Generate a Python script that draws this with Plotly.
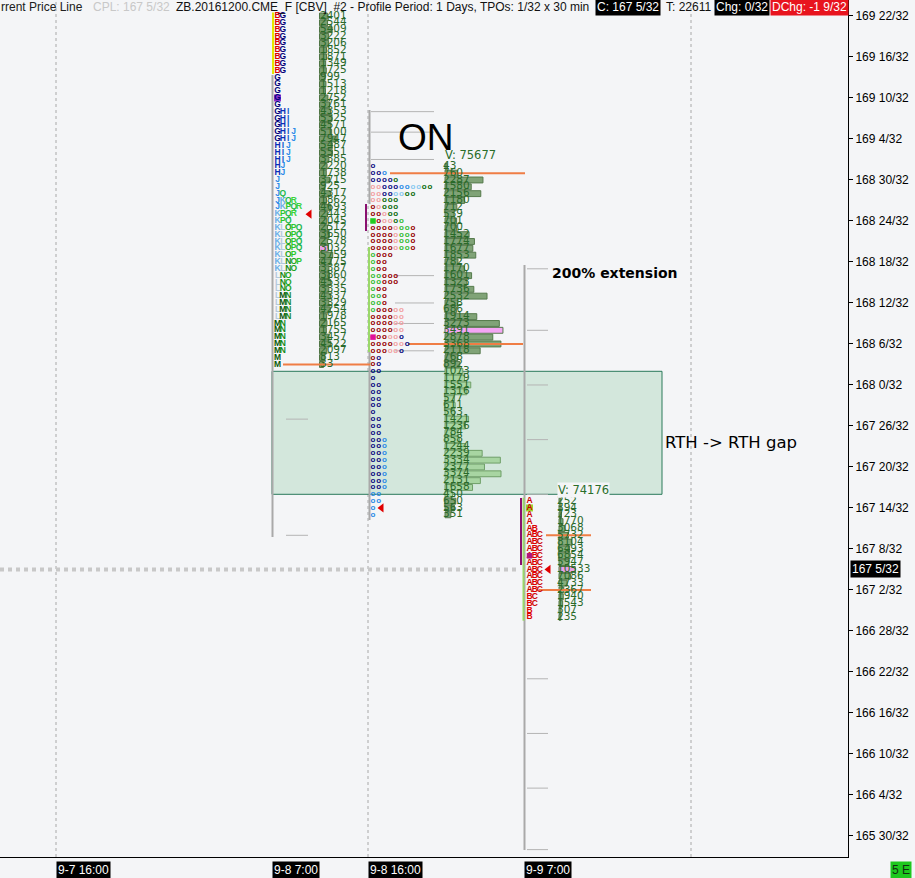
import plotly.graph_objects as go

# ---------------- data (prices in 1/32 ticks: price*32) ----------------
axis_ticks = list(range(5430, 5309, -6))          # 169 22/32 ... 165 30/32
current_price = 5349                               # 167 5/32

# Profile 1 : 9-8 7:00 (RTH)
p1_top = 5430
p1_tpo = (["BG"] * 9 + ["G"] * 5 + ["GHI"] * 3 + ["GHIJ"] * 2 + ["HIJ"] * 3 + ["HJ"] * 2 + ["J"] * 2
          + ["JQ", "JKQR", "JKPQR", "KPQR", "KPQ"] + ["KLOPQ"] * 4 + ["KLOP", "KLNOP", "KLNO"]
          + ["LNO"] * 3 + ["LMN"] * 4 + ["MN"] * 5 + ["M"] * 2)
p1_vol = [2401, 2544, 5409, 3222, 3206, 1852, 1871, 1349, 1725, 999, 1513, 1218, 2752, 3761,
          4353, 5325, 4571, 5100, 7947, 5487, 5551, 3385, 2220, 1738, 3715, 925, 4317, 1862,
          4693, 2443, 2045, 2512, 3650, 2578, 3032, 5759, 4775, 3387, 3860, 4532, 3335, 4337,
          3329, 4254, 1978, 2165, 1755, 3457, 4522, 2097, 813, 33]
p1_poc = 5396
p1_open = 5418
p1_arrow = 5401

# Profile 2 : 9-8 16:00 (overnight), periods coded by letter
on_top = 5408
on_tpo = ["n", "nnb", "nnnng", "ppnnnbbccgg", "ppnnccgg", "ppggg", "rpggg", "rrpgg", "rrppgl",
          "rrrrpllr", "rrrrpllr", "rrrrpllr", "rrrrpllr", "lrrr", "lrr", "lrr", "llrrr", "llrrr",
          "lrr", "llr", "llr", "lrrrpp", "rrrrpp", "rrrrpp", "rrrrpp", "rrrppn", "rrrrppn", "rrrppn",
          "rn", "rn", "nn", "n", "nn", "nn", "nn", "nn", "n", "nn", "nn", "nn", "nnb", "nnb",
          "nnb", "nnb", "nnb", "nnb", "nnb", "nnb", "bb", "bb", "b", "b"]
on_vol = [43, 760, 2287, 1580, 2156, 1180, 712, 539, 701, 700, 1452, 1774, 1677, 1853, 782,
          1170, 1601, 1323, 1736, 2532, 758, 686, 1914, 3273, 3491, 2878, 3368, 2118, 768, 892,
          1073, 1179, 1551, 1316, 577, 611, 563, 1421, 1236, 784, 858, 1244, 2239, 3334, 2377,
          3374, 2131, 1658, 450, 650, 563, 351]
on_poc = 5384
on_total = 75677
on_open_mark = 5400
on_mid_mark = 5383
on_arrow = 5358

# Profile 3 : 9-9 7:00 (RTH)
p3_top = 5359
p3_tpo = ["A", "A", "A", "A", "AB"] + ["ABC"] * 9 + ["BC", "BC", "B", "B"]
p3_vol = [252, 394, 723, 1770, 3068, 5732, 8104, 6493, 6854, 5947, 10533, 7086, 4733, 2367,
          1940, 1543, 307, 235]
p3_poc = 5349
p3_total = 74176
p3_open = 5358
p3_mid_mark = 5351
p3_arrow = 5349

gap_high = 5378      # 168 2/32
gap_low = 5360       # 167 16/32
orange_levels = [5379, 5407, 5382, 5354, 5346]
ext_levels_p1 = [5371, 5354]
ext_levels_on = [5416, 5413, 5409, 5392, 5388, 5385, 5381]
ext_levels_p3 = [5393, 5384, 5376, 5368, 5360, 5333, 5325, 5317, 5308]
time_labels = ["9-7 16:00", "9-8 7:00", "9-8 16:00", "9-9 7:00"]

header = "ZB.20161200.CME_F [CBV]  #2 - Profile Period: 1 Days, TPOs: 1/32 x 30 min"

# ---------------- layout helpers ----------------
PLOT_W, PLOT_H = 848, 857
Y_TOP, PX = 5432.34, 6.833


def py(ypx):
    return Y_TOP - ypx / PX


def fmt(v):
    return f"{v // 32} {v % 32}/32"


letter_col = {"A": "#cc0000", "B": "#dd0000", "C": "#cc0000", "G": "#00007a", "H": "#0b2fb5",
              "I": "#1a5fd0", "J": "#2b8ae8", "K": "#6aaee6", "L": "#b4c8dc", "M": "#0a5a0a",
              "N": "#178a17", "O": "#21a521", "P": "#2ec82e", "Q": "#22b84a", "R": "#3ad43a"}
on_col = {"n": "#0a0a80", "b": "#2a8ae6", "c": "#88c8f0", "p": "#f2a0a0", "r": "#960000",
          "g": "#0b6b0b", "l": "#33bb33"}

fig = go.Figure()

# vertical dotted grid
shapes = []
for gx in [56, 368, 691]:
    shapes.append(dict(type="line", xref="x", yref="paper", x0=gx, x1=gx, y0=0, y1=1,
                       line=dict(color="#a8a8a8", width=1, dash="dot"), layer="below"))
# gap rectangle
shapes.append(dict(type="rect", xref="x", yref="y", x0=272, x1=662, y0=gap_low, y1=gap_high,
                   fillcolor="#d3e7dc", line=dict(color="#2a7a5a", width=1), layer="below"))
# range lines (gray)
for x, a, b in [(272.5, py(75), py(537)), (369.5, py(110), py(204)), (369.5, py(352), py(520)),
                (524.5, py(265), py(850))]:
    shapes.append(dict(type="line", xref="x", yref="y", x0=x, x1=x, y0=a, y1=b,
                       line=dict(color="#a9a9a9", width=2), layer="below"))
for lv in ext_levels_p1:
    shapes.append(dict(type="line", xref="x", yref="y", x0=286, x1=308, y0=lv, y1=lv,
                       line=dict(color="#b4b4b4", width=1), layer="below"))
for i, lv in enumerate(ext_levels_on):
    x0 = 371 if i < 3 else 395
    shapes.append(dict(type="line", xref="x", yref="y", x0=x0, x1=434, y0=lv, y1=lv,
                       line=dict(color="#b4b4b4", width=1), layer="below"))
for lv in ext_levels_p3:
    shapes.append(dict(type="line", xref="x", yref="y", x0=527, x1=548, y0=lv, y1=lv,
                       line=dict(color="#b4b4b4", width=1), layer="below"))
# coloured period edges
for x, a, b, c in [(273, p1_top + 0.5, p1_top - 8.5, "#e6e600"),
                   (366, py(204), py(231), "#8a1070"),
                   (369, py(247), py(352), "#9ad86a"),
                   (521, py(498), py(565), "#8a1070"),
                   (523.5, p3_top + 0.5, p3_top - len(p3_tpo) + 0.5, "#9ad86a")]:
    shapes.append(dict(type="line", xref="x", yref="y", x0=x, x1=x, y0=a, y1=b,
                       line=dict(color=c, width=2), layer="below"))


def prices(top, n):
    return [top - i for i in range(n)]


# volume bars
p1_y = prices(p1_top, len(p1_vol))
fig.add_trace(go.Bar(orientation="h", y=p1_y, x=[4 + v * 0.0016 for v in p1_vol], base=319.5,
                     width=0.86,
                     marker=dict(color=["#eaa2ea" if y == p1_poc else "#789c6c" for y in p1_y],
                                 line=dict(color="#4e7444", width=1)),
                     hoverinfo="skip", showlegend=False))
on_y = prices(on_top, len(on_vol))
in_gap = [gap_low <= y <= gap_high for y in on_y]
fig.add_trace(go.Bar(orientation="h", y=on_y, x=[max(2, v * 0.0166) for v in on_vol], base=445,
                     width=0.86,
                     marker=dict(color=["#f4a6f4" if y == on_poc else ("#a8d5a2" if g else "#80a377")
                                        for y, g in zip(on_y, in_gap)],
                                 line=dict(color=["#6f9f68" if g else "#557a4c" for g in in_gap],
                                           width=1)),
                     hoverinfo="skip", showlegend=False))
p3_y = prices(p3_top, len(p3_vol))
fig.add_trace(go.Bar(orientation="h", y=p3_y, x=[1.5 + v * 0.0014 for v in p3_vol], base=559,
                     width=0.86,
                     marker=dict(color=["#eaa2ea" if y == p3_poc else "#86ad7c" for y in p3_y],
                                 line=dict(color="#4e7444", width=1)),
                     hoverinfo="skip", showlegend=False))

# current price line
fig.add_trace(go.Scatter(x=[0, 519], y=[current_price] * 2, mode="lines",
                         line=dict(color="#c8c8c8", width=4, dash="dot"),
                         hoverinfo="skip", showlegend=False))

# orange lines
for lv, (a, b) in zip(orange_levels, [(283, 370), (390, 525), (408, 523), (546, 591), (539, 591)]):
    fig.add_trace(go.Scatter(x=[a, b], y=[lv, lv], mode="lines", line=dict(color="#ef7d45", width=2),
                             hoverinfo="skip", showlegend=False))

# open markers behind letters
fig.add_trace(go.Scatter(x=[277.5, 529.5], y=[p1_open, p3_open], mode="markers",
                         marker=dict(symbol="square", size=7, color=["#8b2fc9", "#9bd42a"]),
                         hoverinfo="skip", showlegend=False))


def tpo_points(rows, top, x0, dx):
    xs, ys, ts = [], [], []
    for i, row in enumerate(rows):
        for j, ch in enumerate(row):
            xs.append(x0 + j * dx)
            ys.append(top - i)
            ts.append(ch)
    return xs, ys, ts


lx, ly, lt = tpo_points(p1_tpo, p1_top, 277.5, 5.4)
l3x, l3y, l3t = tpo_points(p3_tpo, p3_top, 529.5, 5.2)
lx += l3x
ly += l3y
lt += l3t
fig.add_trace(go.Scatter(x=lx, y=ly, text=lt, mode="text",
                         textfont=dict(family="Arial", size=8.5, weight="bold",
                                       color=[letter_col[c] for c in lt]),
                         hoverinfo="skip", showlegend=False))
ox, oy, ot = tpo_points(on_tpo, on_top, 373, 5.7)
fig.add_trace(go.Scatter(x=ox, y=oy, text=["o"] * len(ot), mode="text",
                         textfont=dict(family="Arial", size=8, weight="bold",
                                       color=[on_col[c] for c in ot]),
                         hoverinfo="skip", showlegend=False))

# replacement markers
fig.add_trace(go.Scatter(x=[373, 373, 529.5], y=[on_open_mark, on_mid_mark, p3_mid_mark],
                         mode="markers",
                         marker=dict(symbol="square", size=5.5, color=["#22cc22", "#e0109a", "#b4157a"]),
                         hoverinfo="skip", showlegend=False))

# arrows
fig.add_trace(go.Scatter(x=[309.5, 381.5, 548.5], y=[p1_arrow, on_arrow, p3_arrow], mode="markers",
                         marker=dict(symbol="triangle-left", size=8, color="#e00000"),
                         hoverinfo="skip", showlegend=False))

# volume numbers
for vols, top, x0 in [(p1_vol, p1_top, 320), (on_vol, on_top, 443), (p3_vol, p3_top, 557)]:
    fig.add_trace(go.Scatter(x=[x0] * len(vols), y=prices(top, len(vols)), text=[str(v) for v in vols],
                             mode="text", textposition="middle right",
                             textfont=dict(family="DejaVu Sans", size=10.5, color="#2a6a2a"),
                             hoverinfo="skip", showlegend=False))

ann = []
# header
hy = 1 - 7 / PLOT_H
for x, t, col, bg in [(0, "rrent Price Line", "#202020", None), (92, "CPL: 167 5/32", "#c8c8c8", None),
                      (175, header, "#111111", None), (595, "C: " + fmt(current_price), "white", "black"),
                      (665, "T: 22611", "#111111", None), (714, "Chg: 0/32", "white", "black"),
                      (770, "DChg: -1 9/32", "white", "#e8141e")]:
    a = dict(xref="paper", yref="paper", x=x / PLOT_W, y=hy, xanchor="left", yanchor="middle",
             text=t, showarrow=False, font=dict(family="Arial", size=12, color=col), borderpad=0)
    if bg:
        a["bgcolor"] = bg
        a["borderpad"] = 1
    ann.append(a)

ann.append(dict(xref="x", yref="y", x=396, y=py(137), xanchor="left", yanchor="middle", text="ON",
                showarrow=False, font=dict(family="Arial", size=37, color="black")))
ann.append(dict(xref="x", yref="y", x=443, y=py(155), xanchor="left", yanchor="middle",
                text=f"V: {on_total}", showarrow=False,
                font=dict(family="DejaVu Sans", size=11.5, color="#2a6e2a")))
ann.append(dict(xref="x", yref="y", x=557, y=py(490), xanchor="left", yanchor="middle",
                text=f"V: {p3_total}", showarrow=False, bgcolor="#f4f5f7", borderpad=0,
                font=dict(family="DejaVu Sans", size=11.5, color="#2a6e2a")))
ann.append(dict(xref="x", yref="y", x=550, y=py(273), xanchor="left", yanchor="middle",
                text="<b>200% extension</b>", showarrow=False,
                font=dict(family="DejaVu Sans", size=14, color="black")))
ann.append(dict(xref="x", yref="y", x=663, y=py(442), xanchor="left", yanchor="middle",
                text="RTH -> RTH gap", showarrow=False,
                font=dict(family="DejaVu Sans", size=16.5, color="black")))
# current price label on axis
ann.append(dict(xref="paper", yref="y", x=850 / PLOT_W, y=current_price, xanchor="left",
                yanchor="middle", text=fmt(current_price), showarrow=False, bgcolor="black",
                borderpad=1, font=dict(family="Arial", size=12, color="white")))
# time labels
for x, t in zip([56, 272, 368, 524], time_labels):
    ann.append(dict(xref="x", yref="paper", x=x, y=0, xanchor="left", yanchor="top", yshift=-4,
                    text=t, showarrow=False, bgcolor="black", borderpad=1,
                    font=dict(family="Arial", size=12, color="white")))
ann.append(dict(xref="paper", yref="paper", x=890 / PLOT_W, y=0, xanchor="left", yanchor="top",
                yshift=-4, text="5 E", showarrow=False, bgcolor="#1ec81e", borderpad=1,
                font=dict(family="Arial", size=12, color="#103010")))

fig.update_layout(
    width=915, height=878,
    margin=dict(l=0, r=67, t=0, b=21),
    paper_bgcolor="#f4f5f7", plot_bgcolor="#f4f5f7",
    barmode="overlay", showlegend=False,
    shapes=shapes, annotations=ann,
    xaxis=dict(range=[0, PLOT_W], showgrid=False, zeroline=False, showticklabels=False,
               ticks="", showline=True, linecolor="black", linewidth=1, fixedrange=True),
    yaxis=dict(range=[py(PLOT_H), Y_TOP], side="right", tickvals=axis_ticks,
               ticktext=[fmt(v) for v in axis_ticks], ticks="outside", ticklen=4,
               tickcolor="black", showline=True, linecolor="black", linewidth=1,
               showgrid=False, zeroline=False, fixedrange=True,
               tickfont=dict(family="Arial", size=12, color="black")),
)

fig.write_html("out.html", config={"displayModeBar": False},
               post_script="document.body.style.margin='0';document.body.style.background='#f4f5f7';")
